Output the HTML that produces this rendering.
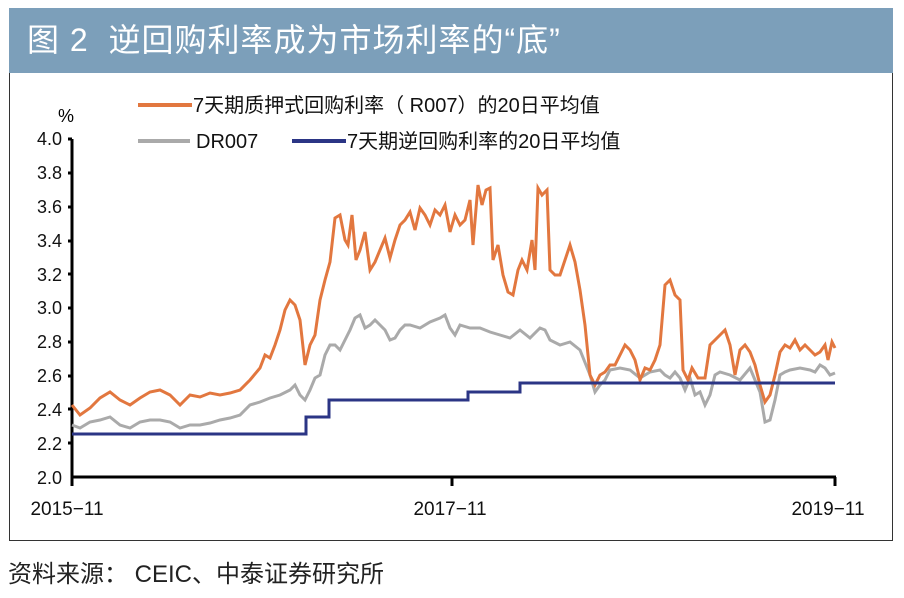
<!DOCTYPE html>
<html><head><meta charset="utf-8"><style>
body{margin:0;width:904px;height:598px;background:#fff;overflow:hidden;font-family:"Liberation Sans","Noto Sans CJK SC",sans-serif}
.t{position:absolute;left:9px;top:8px;width:884px;height:65px;background:#7c9fba;color:#fff;font-size:32px;line-height:65px;padding-left:18px;box-sizing:border-box;letter-spacing:1px}
.box{position:absolute;left:9px;top:73px;width:884px;height:468px;border:1px solid #333;border-top:none;box-sizing:border-box}
.src{position:absolute;left:8px;top:554px;font-size:24px;color:#222}
</style></head><body>
<div class="t">图 2&nbsp; 逆回购利率成为市场利率的“底”</div>
<div class="box"></div>
<svg width="904" height="598" style="position:absolute;left:0;top:0" font-family="Liberation Sans, Noto Sans CJK SC, sans-serif">
<g font-size="18" fill="#111" text-anchor="end">
<text x="62" y="145">4.0</text><text x="62" y="179">3.8</text><text x="62" y="213">3.6</text><text x="62" y="247">3.4</text><text x="62" y="281">3.2</text><text x="62" y="314">3.0</text><text x="62" y="348">2.8</text><text x="62" y="382">2.6</text><text x="62" y="416">2.4</text><text x="62" y="450">2.2</text><text x="62" y="484">2.0</text>
</g>
<text x="58" y="122" font-size="18">%</text>
<g font-size="19" fill="#111" text-anchor="middle"><text x="67" y="515">2015−11</text><text x="450" y="515">2017−11</text><text x="828" y="515">2019−11</text></g>
<g stroke="#000" stroke-width="3" fill="none">
<path d="M72 139V477H836"/>
<path d="M72 173h-4M72 207h-4M72 241h-4M72 274h-4M72 308h-4M72 342h-4M72 376h-4M72 409h-4M72 443h-4M72 139h-4"/>
<path d="M72 477v9M452 477v9M835 477v9"/>
</g>
<polyline fill="none" stroke="#aaaaaa" stroke-width="3" points="72,425 80,428 90,422 100,420 110,417 120,425 130,428 140,422 150,420 160,420 170,422 180,428 190,425 200,425 210,423 220,420 230,418 240,415 250,405 260,402 270,398 280,395 290,390 295,385 300,395 305,400 310,390 315,378 320,375 325,355 330,345 335,345 340,350 345,340 350,330 355,318 360,315 365,328 370,325 375,320 380,325 385,330 390,340 395,338 400,330 405,325 410,325 420,328 430,322 440,318 445,315 450,328 455,335 460,325 470,328 480,328 490,332 500,335 510,338 520,330 530,338 540,328 545,330 550,340 560,345 570,342 580,350 590,375 595,392 600,385 605,380 610,370 620,368 630,370 640,378 650,372 660,370 665,375 670,378 675,372 680,378 685,390 690,378 695,395 700,392 705,405 710,395 715,375 720,372 730,375 740,380 750,368 755,380 760,392 765,422 770,420 775,400 780,375 785,372 790,370 800,368 810,370 815,372 820,365 825,368 830,375 835,373"/>
<polyline fill="none" stroke="#e2773f" stroke-width="3" points="72,405 80,415 90,408 100,398 110,392 120,400 130,405 140,398 150,392 160,390 170,395 180,405 190,395 200,397 210,393 220,395 230,393 240,390 250,380 260,368 265,355 270,358 275,345 280,330 285,310 290,300 295,305 300,320 305,365 310,345 315,335 320,300 325,280 330,262 335,218 340,215 345,240 348,245 352,215 356,260 360,250 365,232 370,270 375,262 380,250 385,238 390,258 395,240 400,225 405,220 410,212 415,230 420,208 425,215 430,225 435,210 440,215 445,205 450,232 455,215 460,225 465,220 470,200 473,245 478,185 482,205 486,190 490,188 493,260 498,245 503,275 508,292 513,295 518,270 522,260 527,270 532,240 535,270 538,188 542,195 547,190 550,270 555,275 560,275 565,260 570,245 575,262 580,290 585,325 590,375 595,385 600,375 605,372 610,365 615,365 620,355 625,345 630,350 635,360 640,380 645,368 650,370 655,360 660,345 665,285 670,280 675,295 680,300 683,370 688,380 692,368 698,378 705,378 710,345 715,340 720,335 725,330 730,345 735,375 740,350 745,345 750,352 755,365 760,385 765,402 770,395 775,375 780,352 785,345 790,348 795,340 800,350 805,345 810,350 815,355 820,352 825,345 828,360 832,342 835,348"/>
<path fill="none" stroke="#2b3585" stroke-width="3" d="M72 434H306V417H329V400H468V392H520V383H835"/>
<line x1="138" y1="105" x2="192" y2="105" stroke="#e2773f" stroke-width="4"/>
<text x="193" y="112" font-size="20" fill="#111">7天期质押式回购利率（ R007）的20日平均值</text>
<line x1="138" y1="141" x2="190" y2="141" stroke="#aaaaaa" stroke-width="4"/>
<text x="196" y="148" font-size="20" fill="#111">DR007</text>
<line x1="292" y1="141" x2="346" y2="141" stroke="#2b3585" stroke-width="4"/>
<text x="347" y="148" font-size="20" fill="#111">7天期逆回购利率的20日平均值</text>
</svg>
<div class="src">资料来源： CEIC、中泰证券研究所</div>
</body></html>
